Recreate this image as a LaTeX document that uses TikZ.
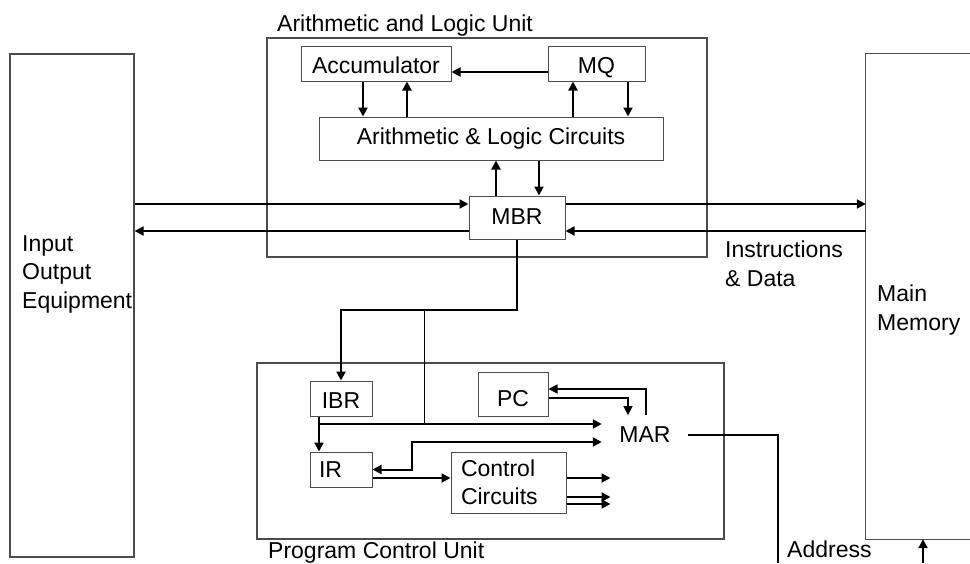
\documentclass[tikz,border=0pt]{standalone}
\usepackage{fontspec}
\setmainfont{Liberation Sans}
\usetikzlibrary{arrows.meta}

\begin{document}
\begin{tikzpicture}[x=1pt,y=-1pt,font=\fontsize{23}{28.5}\selectfont,
  >={Triangle[length=9pt,width=9pt]}]
\tikzstyle{unit}=[draw=black!70,line width=1.2pt,inner sep=0pt]
\tikzstyle{reg}=[draw=black!70,line width=1pt,inner sep=0pt,text height=19pt,text depth=0pt]
\tikzstyle{txt}=[inner sep=0pt,anchor=north west,align=left]
\tikzstyle{bus}=[line width=2pt,->]
\tikzstyle{wire}=[line width=1.3pt]
\useasboundingbox (0,0) rectangle (970,563);
% outer units
\node[unit,minimum width=124pt,minimum height=503pt] (io) at (72,305.5) {};
\node[inner sep=0pt,minimum width=104pt,minimum height=485pt] (mem) at (918,296.5) {};
\draw[unit] (mem.north east) -- (mem.north west) -- (mem.south west) -- (mem.south east);
\node[unit,minimum width=440pt,minimum height=219pt] (alu) at (487,147.5) {};
\node[unit,minimum width=467pt,minimum height=176pt] (pcu) at (490.5,451) {};
% labels
\node[txt] (alulbl) at (277,15) {Arithmetic and Logic Unit};
\node[txt] (pculbl) at (268,542) {Program Control Unit};
\node[txt] (iolbl) at (22,235) {Input\\Output\\Equipment};
\node[txt] (memlbl) at (877,285) {Main\\Memory};
\node[txt] (idlbl) at (725,241) {Instructions\\\& Data};
\node[txt] (addr) at (787,541) {Address};
% registers
\node[reg,minimum width=150pt,minimum height=35pt] (acc) at (376,63.5) {Accumulator};
\node[reg,minimum width=97pt,minimum height=35pt] (mq) at (596.5,63.5) {MQ};
\node[reg,minimum width=344pt,minimum height=43pt,text height=12pt] (alc) at (491,138.5) {Arithmetic \& Logic Circuits};
\node[reg,minimum width=96pt,minimum height=43pt,text height=14pt] (mbr) at (517,217.5) {MBR};
\node[reg,minimum width=62pt,minimum height=35pt] (ibr) at (341,398.5) {IBR};
\node[reg,minimum width=70pt,minimum height=44pt,text height=25pt] (pc) at (513,394) {PC};
\node[reg,minimum width=62pt,minimum height=35pt,text height=16pt,text width=44pt,inner xsep=9pt,align=left] (ir) at (341,469.5) {IR};
\node[reg,minimum width=115pt,minimum height=61pt,text height=,text depth=,text width=95pt,inner xsep=10pt,align=left] (ctl) at (508.5,482.5) {Control\\Circuits};
\node[inner xsep=17.5pt,inner ysep=11.75pt] (mar) at (645,435) {MAR};
% ALU paths
\draw[bus] ([yshift=-8.5pt]mq.west) -- ([yshift=-8.5pt]acc.east);
\draw[bus] ([xshift=-13pt]acc.south) -- ([xshift=-13pt]acc.south |- alc.north);
\draw[bus] ([xshift=31pt]acc.south |- alc.north) -- ([xshift=31pt]acc.south);
\draw[bus] ([xshift=-23.5pt]mq.south |- alc.north) -- ([xshift=-23.5pt]mq.south);
\draw[bus] ([xshift=31.5pt]mq.south) -- ([xshift=31.5pt]mq.south |- alc.north);
\draw[bus] ([xshift=-21pt]mbr.north) -- ([xshift=-21pt]mbr.north |- alc.south);
\draw[bus] ([xshift=22pt]mbr.north |- alc.south) -- ([xshift=22pt]mbr.north);
% data to and from MBR
\draw[bus] ([yshift=13.5pt]mbr.west -| io.east) -- ([yshift=13.5pt]mbr.west);
\draw[bus] ([yshift=-13.5pt]mbr.west) -- ([yshift=-13.5pt]mbr.west -| io.east);
\draw[bus] ([yshift=13.5pt]mbr.east) -- ([yshift=13.5pt]mbr.east -| mem.west);
\draw[bus] ([yshift=-13.5pt]mbr.east -| mem.west) -- ([yshift=-13.5pt]mbr.east);
% program control
\coordinate (split) at (424,310);
\coordinate (tap) at (319,424);
\draw[bus] (mbr.south) |- (split) -| (ibr.north);
\draw[line width=1pt] (split) -- (split |- tap);
\draw[bus] ([xshift=-22pt]ibr.south) -- ([xshift=-22pt]ir.north);
\draw[bus] (tap) -- (tap -| mar.west);
\draw[bus,<->] (ir.east) -- ++(39,0) |- ([yshift=-7pt]mar.west);
\draw[bus] ([yshift=-8.5pt]ir.east) -- ([yshift=-8.5pt]ir.east -| ctl.west);
\foreach \dy in {4.5,-14.5,-21.5}
  \draw[bus] ([yshift=\dy pt]ctl.east) -- ++(44,0);
\draw[wire,->] ([xshift=1pt]mar.north) |- ([yshift=5pt]pc.east);
\draw[wire,->] ([yshift=-4pt]pc.east) -| ([xshift=-17pt]mar.north);
% address
\coordinate (addrout) at (778,563);
\coordinate (addrin) at (923,563);
\draw[line width=2pt] (mar.east) -| (addrout);
\draw[bus] (addrin) -- (addrin |- mem.south);
\end{tikzpicture}
\end{document}
